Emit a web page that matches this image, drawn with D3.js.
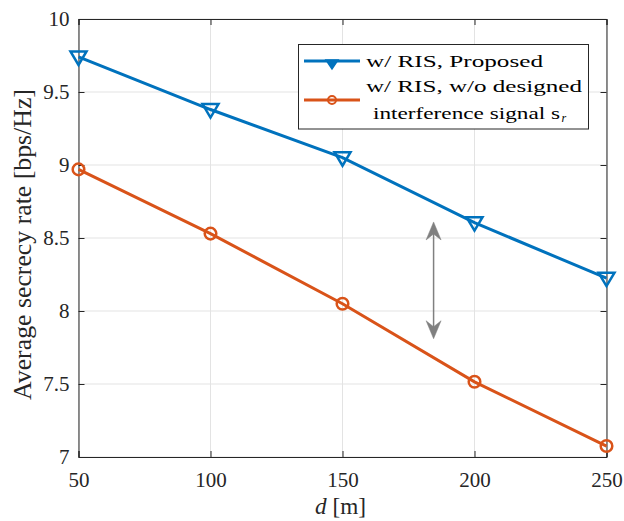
<!DOCTYPE html>
<html>
<head>
<meta charset="utf-8">
<script src="https://cdn.jsdelivr.net/npm/d3@7"></script>
<style>
  body { margin: 0; background: #fff; }
  svg text { font-family: "Liberation Serif", "Times New Roman", Times, serif; }
</style>
</head>
<body>
<svg id="chart" width="624" height="521"></svg>
<script>
// distances d [m]
const distances = [50, 100, 150, 200, 250];
// average secrecy rate [bps/Hz]
const proposed = [9.74, 9.38, 9.05, 8.605, 8.225];
const noDesigned = [8.97, 8.53, 8.05, 7.515, 7.075];
const xTicks = [50, 100, 150, 200, 250];
const yTicks = [7, 7.5, 8, 8.5, 9, 9.5, 10];
// gap arrow (data coords)
const arrowX = 184.5;
const arrowY = [8.61, 7.81];

const svg = d3.select('#chart');
const m = { left: 78.5, right: 606.5, top: 19, bottom: 457 };

const x = d3.scaleLinear().domain([50, 250]).range([m.left, m.right]);
const y = d3.scaleLinear().domain([7, 10]).range([m.bottom, m.top]);

const axisColor = '#262626';
const blue = '#0072BD', orange = '#D95319';

// grid
const grid = svg.append('g');
grid.selectAll('.gx').data(xTicks).join('line')
  .attr('x1', d => x(d)).attr('x2', d => x(d))
  .attr('y1', m.top).attr('y2', m.bottom)
  .attr('stroke', '#e3e3e3').attr('stroke-width', 1);
grid.selectAll('.gy').data(yTicks).join('line')
  .attr('x1', m.left).attr('x2', m.right)
  .attr('y1', d => y(d)).attr('y2', d => y(d))
  .attr('stroke', '#e3e3e3').attr('stroke-width', 1);

// axes (inward ticks, box)
const xAxis = d3.axisBottom(x).tickValues(xTicks).tickSize(-6).tickPadding(15).tickFormat(d3.format('d'));
const yAxis = d3.axisLeft(y).tickValues(yTicks).tickSize(-6).tickPadding(9).tickFormat(d => d3.format('')(d));
const xAxisTop = d3.axisTop(x).tickValues(xTicks).tickSize(-6).tickFormat('');
const yAxisRight = d3.axisRight(y).tickValues(yTicks).tickSize(-6).tickFormat('');

function styleAxis(g) {
  g.attr('font-family', null);
  g.select('.domain').attr('stroke', axisColor).attr('stroke-width', 1);
  g.selectAll('.tick line').attr('stroke', axisColor).attr('stroke-width', 1);
  g.selectAll('.tick text').attr('fill', axisColor).style('font-size', '21px');
}
svg.append('g').attr('transform', `translate(0,${m.bottom})`).call(xAxis).call(styleAxis);
svg.append('g').attr('transform', `translate(${m.left},0)`).call(yAxis).call(styleAxis);
svg.append('g').attr('transform', `translate(0,${m.top})`).call(xAxisTop).call(styleAxis);
svg.append('g').attr('transform', `translate(${m.right},0)`).call(yAxisRight).call(styleAxis);

// lines
const line = d3.line().x((d, i) => x(distances[i])).y(d => y(d));
svg.append('path').datum(proposed).attr('d', line)
  .attr('fill', 'none').attr('stroke', blue).attr('stroke-width', 3);
svg.append('path').datum(noDesigned).attr('d', line)
  .attr('fill', 'none').attr('stroke', orange).attr('stroke-width', 3);

// markers
const tri = (cx, cy) => `M${cx - 8},${cy - 5.5} L${cx + 8},${cy - 5.5} L${cx},${cy + 8} Z`;
svg.append('g').selectAll('path').data(proposed).join('path')
  .attr('d', (d, i) => tri(x(distances[i]), y(d)))
  .attr('fill', 'none').attr('stroke', blue).attr('stroke-width', 2.5).attr('stroke-linejoin', 'miter');
svg.append('g').selectAll('circle').data(noDesigned).join('circle')
  .attr('cx', (d, i) => x(distances[i])).attr('cy', d => y(d)).attr('r', 5.8)
  .attr('fill', 'none').attr('stroke', orange).attr('stroke-width', 2.5);

// double arrow
const ax = x(arrowX), ay1 = y(arrowY[0]), ay2 = y(arrowY[1]);
const arrowG = svg.append('g').attr('fill', '#808080').attr('stroke', '#808080');
arrowG.append('line').attr('x1', ax).attr('x2', ax).attr('y1', ay1 + 10).attr('y2', ay2 - 10)
  .attr('stroke-width', 1.5);
const head = (tx, ty, dir) =>
  `M${tx},${ty} L${tx + 7.5},${ty + dir * 18} L${tx},${ty + dir * 12} L${tx - 7.5},${ty + dir * 18} Z`;
arrowG.append('path').attr('d', head(ax, ay1, 1)).attr('stroke-width', 0.5);
arrowG.append('path').attr('d', head(ax, ay2, -1)).attr('stroke-width', 0.5);

// fit a text's font size so it spans the given length
function fitSize(sel, target) {
  const w = sel.node().getComputedTextLength();
  const fs = parseFloat(sel.style('font-size'));
  sel.style('font-size', (fs * target / w) + 'px');
}

// axis labels
const yl = svg.append('text')
  .attr('transform', `translate(25,244.5) rotate(-90)`)
  .attr('text-anchor', 'middle').attr('dominant-baseline', 'middle')
  .attr('fill', axisColor).style('font-size', '20px')
  .text('Average secrecy rate [bps/Hz]');
fitSize(yl, 311);
const xl = svg.append('text').attr('x', 340.5).attr('y', 514)
  .attr('text-anchor', 'middle').attr('fill', axisColor).style('font-size', '20px');
xl.append('tspan').style('font-style', 'italic').text('d');
xl.append('tspan').text(' [m]');
fitSize(xl, 51);

// legend
const leg = svg.append('g');
leg.append('rect').attr('x', 298.5).attr('y', 44.5).attr('width', 290).attr('height', 84.5)
  .attr('fill', '#fff').attr('stroke', axisColor).attr('stroke-width', 1);
const l1y = 61, l2y = 100;
leg.append('line').attr('x1', 304).attr('x2', 360).attr('y1', l1y).attr('y2', l1y)
  .attr('stroke', blue).attr('stroke-width', 3);
leg.append('path').attr('d', `M${332 - 6},${l1y - 1} L${332 + 6},${l1y - 1} L${332},${l1y + 8} Z`)
  .attr('fill', blue).attr('stroke', blue).attr('stroke-width', 1.5);
leg.append('line').attr('x1', 304).attr('x2', 360).attr('y1', l2y).attr('y2', l2y)
  .attr('stroke', orange).attr('stroke-width', 3);
leg.append('circle').attr('cx', 332).attr('cy', l2y).attr('r', 4)
  .attr('fill', 'none').attr('stroke', orange).attr('stroke-width', 2);
const legText = (tx, ty, len) => leg.append('text').attr('x', tx).attr('y', ty)
  .attr('textLength', len).attr('lengthAdjust', 'spacingAndGlyphs')
  .attr('fill', '#000').style('font-size', '17.5px');
legText(366, 67, 177).text('w/ RIS, Proposed');
legText(366, 92, 216).text('w/ RIS, w/o designed');
legText(373, 118.5, 187).text('interference signal s');
leg.append('text').attr('x', 561.5).attr('y', 122)
  .attr('fill', '#000').style('font-size', '12px').style('font-style', 'italic').text('r');
</script>
</body>
</html>
